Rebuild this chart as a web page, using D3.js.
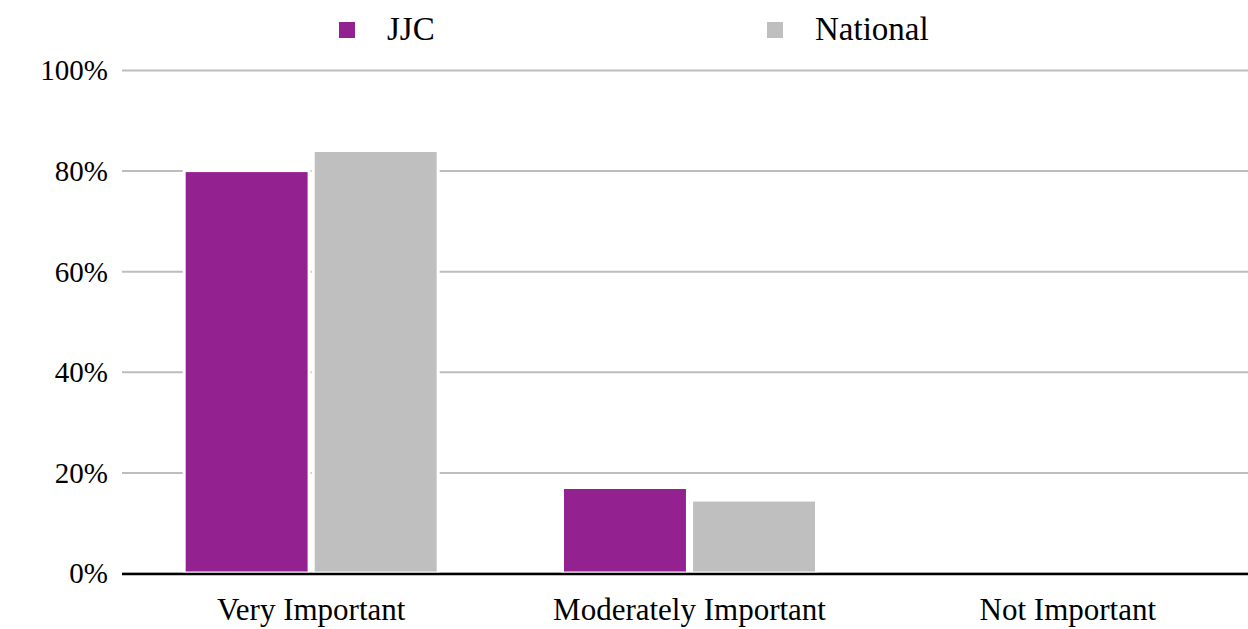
<!DOCTYPE html>
<html>
<head>
<meta charset="utf-8">
<script src="https://cdn.jsdelivr.net/npm/d3@7"></script>
<style>
  html, body { margin: 0; padding: 0; background: #fff; }
  svg text { font-family: "Liberation Serif", "DejaVu Serif", serif; fill: #000; }
</style>
</head>
<body>
<div id="chart"></div>
<script>
"use strict";

/* ── Data ── */
const categories = ["Very Important", "Moderately Important", "Not Important"];
const seriesNames = ["JJC", "National"];
const jjcValues = [80, 17, 0];
const nationalValues = [84, 14.5, 0];
const yTicks = [0, 20, 40, 60, 80, 100];

const colours = { JJC: "#93218f", National: "#bfbfbf" };

/* ── Dimensions ── */
const W = 1248, H = 629;
const margin = { top: 70, left: 122 };
const plotW = 1135;           // plot runs slightly past the right edge
const innerH = 503;

const svg = d3.select("#chart").append("svg")
  .attr("width", W).attr("height", H);

const g = svg.append("g")
  .attr("transform", `translate(${margin.left},${margin.top})`);

/* ── Scales ── */
const x0 = d3.scaleBand().domain(categories).range([0, plotW]).padding(0);
const half = 127;
const x1 = d3.scaleBand().domain(seriesNames)
  .range([x0.bandwidth() / 2 - half, x0.bandwidth() / 2 + half]).paddingInner(0.032);
const y = d3.scaleLinear().domain([0, 100]).range([innerH, 0]);

/* ── Gridlines ── */
g.append("g")
  .call(d3.axisLeft(y).tickValues(yTicks).tickSize(-plotW).tickFormat(""))
  .call(a => {
    a.select(".domain").remove();
    a.selectAll("line").attr("stroke", "#bdbdbd").attr("stroke-width", 2);
  });

/* ── Bars ── */
const rows = categories.map((c, i) => ({
  cat: c,
  vals: [
    { key: "JJC", v: jjcValues[i] },
    { key: "National", v: nationalValues[i] }
  ]
}));

const groups = g.selectAll(".cat")
  .data(rows)
  .join("g")
  .attr("transform", d => `translate(${x0(d.cat)},0)`);

groups.selectAll("rect")
  .data(d => d.vals)
  .join("rect")
  .attr("x", d => x1(d.key))
  .attr("y", d => y(d.v))
  .attr("width", x1.bandwidth())
  .attr("height", d => innerH - y(d.v))
  .attr("fill", d => colours[d.key])
  .attr("stroke", "#fff")
  .attr("stroke-width", 3);

/* ── Baseline ── */
g.append("line")
  .attr("x1", 0).attr("x2", plotW)
  .attr("y1", innerH + 1).attr("y2", innerH + 1)
  .attr("stroke", "#000").attr("stroke-width", 2.5);

/* ── Y tick labels ── */
g.append("g")
  .call(d3.axisLeft(y).tickValues(yTicks).tickSize(0).tickPadding(14)
    .tickFormat(d => d + "%"))
  .call(a => {
    a.select(".domain").remove();
    a.selectAll("text").attr("font-size", "29px").attr("dy", "0.34em");
  });

/* ── X labels ── */
g.append("g")
  .attr("transform", `translate(0,${innerH})`)
  .call(d3.axisBottom(x0).tickSize(0).tickPadding(25))
  .call(a => {
    a.select(".domain").remove();
    a.selectAll("text").attr("font-size", "31px");
  });

/* ── Legend ── */
const legendItems = [
  { label: "JJC", x: 339 },
  { label: "National", x: 767 }
];
const lg = svg.append("g");
legendItems.forEach(item => {
  lg.append("rect")
    .attr("x", item.x).attr("y", 22)
    .attr("width", 16).attr("height", 16)
    .attr("fill", colours[item.label]);
  lg.append("text")
    .attr("x", item.x + 48).attr("y", 40)
    .attr("font-size", "33px")
    .text(item.label);
});
</script>
</body>
</html>
